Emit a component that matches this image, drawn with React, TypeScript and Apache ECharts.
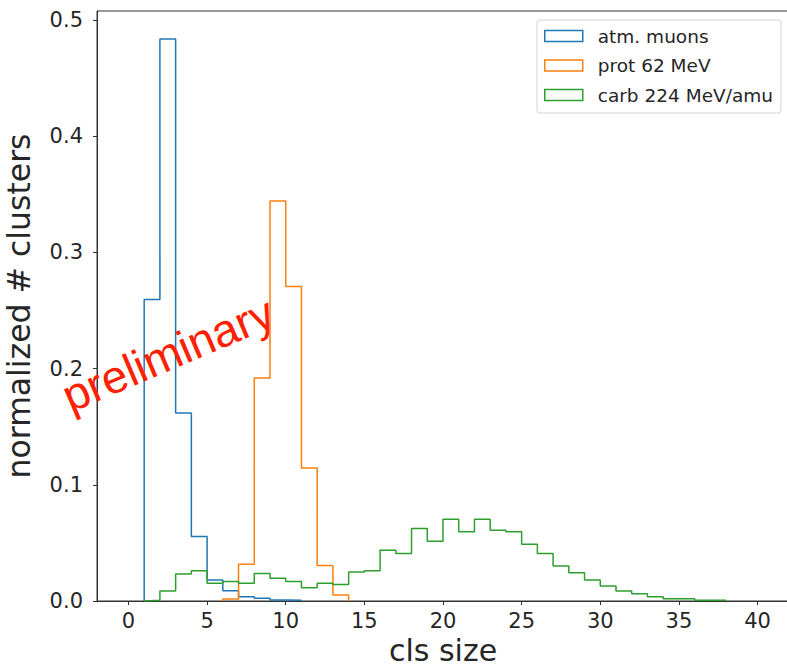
import React, { useEffect, useRef } from 'react';
import * as echarts from 'echarts';

const seriesNames = ['atm. muons', 'prot 62 MeV', 'carb 224 MeV/amu'];
const seriesColors = ['#1f77b4', '#ff7f0e', '#2ca02c'];

// bin width 1, first left edge given
const muonFirstEdge = 1;
const muonValues = [0.2595, 0.4836, 0.1618, 0.0555, 0.0181, 0.0089, 0.0037, 0.0023, 0.0009, 0.0006];
const protFirstEdge = 6;
const protValues = [0.0017, 0.0316, 0.192, 0.3443, 0.2707, 0.1144, 0.0305, 0.0052];
const carbFirstEdge = 1;
const carbValues = [
  0.0006, 0.0086, 0.0233, 0.0261, 0.0152, 0.0167, 0.0152, 0.0236, 0.0195, 0.0167,
  0.0115, 0.0152, 0.0141, 0.025, 0.0261, 0.0437, 0.0408, 0.0624, 0.0514, 0.0704,
  0.0595, 0.0704, 0.0609, 0.0595, 0.0489, 0.0408, 0.0302, 0.0244, 0.0181, 0.0129,
  0.0086, 0.0063, 0.0037, 0.002, 0.002, 0.0006, 0.0006,
];

const xTicks = [0, 5, 10, 15, 20, 25, 30, 35, 40];
const yTicks = [0, 0.1, 0.2, 0.3, 0.4, 0.5];

function stepPoints(first: number, values: number[]) {
  const pts: number[][] = [[first, 0]];
  values.forEach((v, i) => {
    pts.push([first + i, v], [first + i + 1, v]);
  });
  pts.push([first + values.length, 0]);
  return pts;
}

const FONT = '"DejaVu Sans", sans-serif';

export default function App() {
  const ref = useRef<HTMLDivElement>(null);
  useEffect(() => {
    if (!ref.current) return;
    const chart = echarts.init(ref.current, null, { renderer: 'svg' });
    const yMax = Math.max(...muonValues, ...protValues, ...carbValues) * 1.05;
    const data = [
      stepPoints(muonFirstEdge, muonValues),
      stepPoints(protFirstEdge, protValues),
      stepPoints(carbFirstEdge, carbValues),
    ];
    chart.setOption({
      animation: false,
      backgroundColor: '#fff',
      grid: {
        left: 97,
        top: 11,
        right: -2,
        bottom: 66,
        containLabel: false,
        outerBoundsMode: 'none',
        show: true,
        borderColor: '#333',
        borderWidth: 1,
        backgroundColor: 'transparent',
      },
      xAxis: {
        type: 'value',
        min: -2,
        max: 42,
        name: 'cls size',
        nameLocation: 'middle',
        nameGap: 36,
        nameTextStyle: { fontFamily: FONT, fontSize: 30, lineHeight: 25, color: '#262626' },
        axisLine: { show: true, onZero: false, lineStyle: { color: '#333', width: 1 } },
        axisTick: { show: true, customValues: xTicks, length: 4, lineStyle: { color: '#333' } },
        axisLabel: {
          customValues: xTicks,
          fontFamily: FONT,
          fontSize: 21,
          color: '#262626',
          margin: 9,
        },
        splitLine: { show: false },
      },
      yAxis: {
        type: 'value',
        min: 0,
        max: yMax,
        name: 'normalized # clusters',
        nameLocation: 'middle',
        nameGap: 62,
        nameTextStyle: { fontFamily: FONT, fontSize: 31.5, color: '#262626' },
        axisLine: { show: true, onZero: false, lineStyle: { color: '#333', width: 1 } },
        axisTick: { show: true, customValues: yTicks, length: 4, lineStyle: { color: '#333' } },
        axisLabel: {
          customValues: yTicks,
          formatter: (v: number) => v.toFixed(1),
          fontFamily: FONT,
          fontSize: 21,
          color: '#262626',
          margin: 14,
        },
        splitLine: { show: false },
      },
      legend: {
        orient: 'vertical',
        left: 537,
        top: 20,
        padding: [5, 8, 7, 7],
        itemGap: 7.5,
        itemWidth: 38,
        itemHeight: 11,
        icon: 'rect',
        backgroundColor: 'rgba(255,255,255,0.8)',
        borderColor: '#d5d5d5',
        borderWidth: 1,
        borderRadius: 3,
        textStyle: {
          fontFamily: FONT,
          fontSize: 18.5,
          color: '#262626',
          lineHeight: 22,
          padding: [0, 0, 0, 10],
        },
        data: seriesNames.map((name, i) => ({
          name,
          icon: 'rect',
          itemStyle: { color: '#ffffff', borderColor: seriesColors[i], borderWidth: 1.5 },
        })),
      },
      graphic: [
        {
          type: 'text',
          x: 168,
          y: 354,
          rotation: (23 * Math.PI) / 180,
          z: 100,
          style: {
            text: 'preliminary',
            fontFamily: '"Liberation Sans", Arial, sans-serif',
            fontSize: 46,
            fill: '#ff2000',
            align: 'center',
            verticalAlign: 'middle',
          },
        },
      ],
      series: seriesNames.map((name, i) => ({
        name,
        type: 'line',
        data: data[i],
        showSymbol: false,
        symbol: 'none',
        color: seriesColors[i],
        lineStyle: { color: seriesColors[i], width: 1.5 },
        clip: true,
      })),
    });
    return () => chart.dispose();
  }, []);
  return (
    <div
      ref={ref}
      style={{ position: 'absolute', left: 0, top: 0, width: 787, height: 667 }}
    />
  );
}
